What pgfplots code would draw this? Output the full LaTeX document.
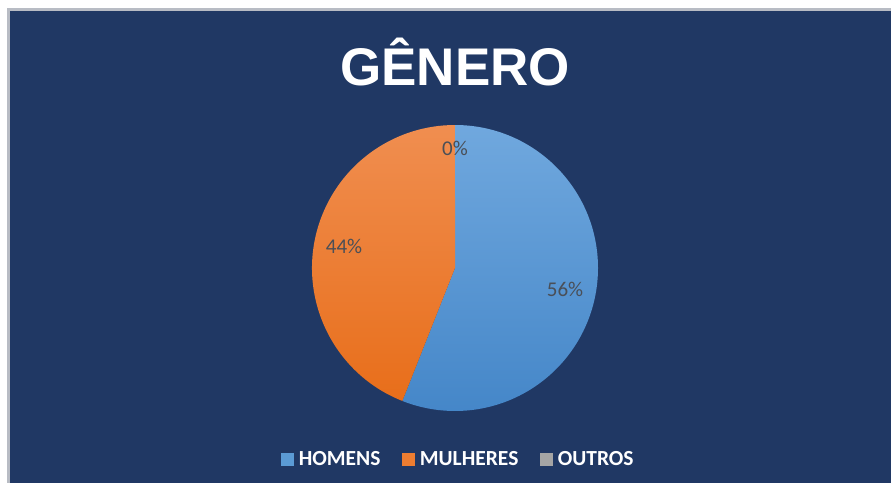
\documentclass[border=0pt]{standalone}
\usepackage{pgfplots}
\pgfplotsset{compat=1.18}
\usepackage{pgfplotstable}
\usepackage{fontspec}
\setmainfont{Carlito}
\newfontfamily\titlefont{Liberation Sans}
\definecolor{bg}{HTML}{203864}
\definecolor{frame}{HTML}{B8BCC4}
\definecolor{homemtop}{RGB}{112,168,222}
\definecolor{homembot}{RGB}{68,134,200}
\definecolor{homem}{RGB}{91,155,213}
\definecolor{mulhertop}{RGB}{240,142,80}
\definecolor{mulherbot}{RGB}{232,110,26}
\definecolor{mulher}{RGB}{237,125,49}
\definecolor{outros}{RGB}{165,165,165}
\definecolor{lbl}{HTML}{4A4F57}

\pgfplotstableread{
name value
HOMENS 56
MULHERES 44
OUTROS 0
}\piedata

\begin{document}
\begin{tikzpicture}
\pgfplotstablegetelem{0}{value}\of\piedata \edef\va{\pgfplotsretval}
\pgfplotstablegetelem{1}{value}\of\piedata \edef\vb{\pgfplotsretval}
\pgfplotstablegetelem{2}{value}\of\piedata \edef\vc{\pgfplotsretval}
\pgfmathsetmacro\tot{\va+\vb+\vc}
\pgfmathsetmacro\aA{90}
\pgfmathsetmacro\aB{\aA-360*(\va/\tot)}
\pgfmathsetmacro\aC{\aB-360*(\vb/\tot)}
\pgfmathsetmacro\aD{\aC-360*(\vc/\tot)}
\pgfmathsetmacro\mA{(\aA+\aB)/2}
\pgfmathsetmacro\mB{(\aB+\aC)/2}
\pgfmathsetmacro\mC{(\aC+\aD)/2}
\begin{axis}[
  x=1pt, y=1pt,
  xmin=0, xmax=891, ymin=0, ymax=483,
  hide axis, clip=false,
  legend columns=3,
  legend style={at={(axis cs:458.5,24)}, anchor=center, draw=none, fill=none,
    text=white, font=\bfseries\fontsize{21.5}{23}\selectfont,
    /tikz/every odd column/.append style={column sep=3pt},
    /tikz/every even column/.append style={column sep=20pt},
    inner sep=0pt},
  legend image code/.code={\fill[#1] (0pt,-6pt) rectangle (12pt,6pt);},
]
% background
\fill[white] (axis cs:0,0) rectangle (axis cs:891,483);
\fill[frame] (axis cs:7,0) rectangle (axis cs:891,475);
\fill[bg] (axis cs:10,0) rectangle (axis cs:891,472);
% title
\node[font=\titlefont\bfseries\fontsize{53}{60}\selectfont, text=white, anchor=base]
  at (axis cs:455,397) {GÊNERO};
% pie slices
\shade[top color=homemtop, bottom color=homembot]
  (axis cs:455,215) -- ([shift={(\aA:143pt)}]axis cs:455,215)
  arc[start angle=\aA, end angle=\aB, radius=143pt] -- cycle;
\shade[top color=mulhertop, bottom color=mulherbot]
  (axis cs:455,215) -- ([shift={(\aB:143pt)}]axis cs:455,215)
  arc[start angle=\aB, end angle=\aC, radius=143pt] -- cycle;
% labels
\node[text=lbl, font=\fontsize{21}{24}\selectfont] at ([shift={(\mA:112pt)}]axis cs:455,215) {\va\%};
\node[text=lbl, font=\fontsize{21}{24}\selectfont] at ([shift={(\mB:113pt)}]axis cs:455,215) {\vb\%};
\node[text=lbl, font=\fontsize{21}{24}\selectfont] at ([shift={(\mC:120pt)}]axis cs:455,215) {\vc\%};
% legend
\addlegendimage{homem}
\addlegendentry{HOMENS}
\addlegendimage{mulher}
\addlegendentry{MULHERES}
\addlegendimage{outros}
\addlegendentry{OUTROS}
\end{axis}
\end{tikzpicture}
\end{document}
